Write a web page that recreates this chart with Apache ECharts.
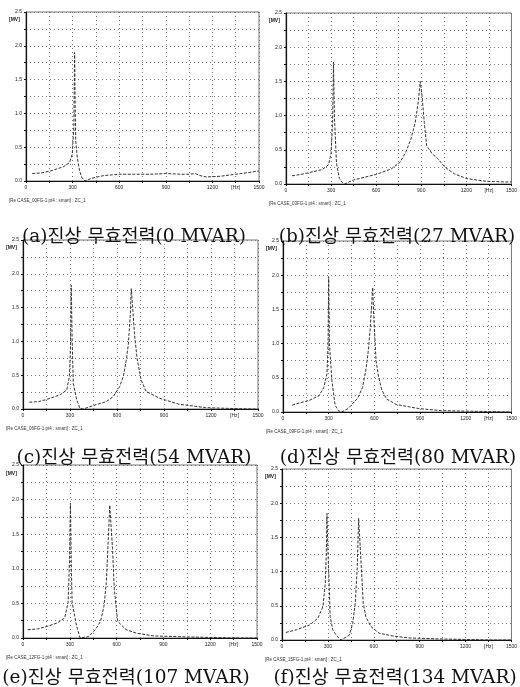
<!DOCTYPE html>
<html><head><meta charset="utf-8">
<script src="https://cdn.jsdelivr.net/npm/echarts@6/dist/echarts.min.js"></script>
<style>html,body{margin:0;padding:0;background:#fff}#c{width:520px;height:687px}</style>
</head><body><div id="c"></div>
<script>
// ---- data ----
const xTicks = [0, 300, 600, 900, 1200, 1500];
const xUnit = '[Hz]';
const yUnit = '[MV]';
const captions = ['(a)진상 무효전력(0 MVAR)', '(b)진상 무효전력(27 MVAR)', '(c)진상 무효전력(54 MVAR)',
  '(d)진상 무효전력(80 MVAR)', '(e)진상 무효전력(107 MVAR)', '(f)진상 무효전력(134 MVAR)'];
const sources = ['[Re CASE_00FG-1.pt4 : smart] : ZC_1', '[Re CASE_03FG-1.pt4 : smart] : ZC_1',
  '[Re CASE_06FG-1.pt4 : smart] : ZC_1', '[Re CASE_09FG-1.pt4 : smart] : ZC_1',
  '[Re CASE_12FG-1.pt4 : smart] : ZC_1', '[Re CASE_15FG-1.pt4 : smart] : ZC_1'];

const fA = [40, 100, 160, 240, 280, 298, 308, 313, 316, 320, 330, 345, 360, 380, 420, 500, 600, 700, 800, 900, 1000, 1050, 1090, 1120, 1160, 1250, 1350, 1450, 1500];
const vA = [0.11, 0.12, 0.15, 0.21, 0.27, 0.4, 0.8, 1.9, 1.2, 0.6, 0.35, 0.15, 0.05, 0.0, 0.04, 0.08, 0.1, 0.1, 0.1, 0.11, 0.1, 0.1, 0.11, 0.08, 0.06, 0.07, 0.1, 0.13, 0.15];

const fB = [40, 100, 160, 240, 283, 300, 310, 316, 322, 336, 355, 375, 390, 450, 600, 700, 760, 800, 830, 860, 880, 893, 905, 920, 936, 970, 1010, 1055, 1120, 1200, 1330, 1460, 1500];
const vB = [0.12, 0.14, 0.17, 0.21, 0.28, 0.45, 0.9, 1.78, 1.0, 0.3, 0.08, 0.02, 0.0, 0.06, 0.14, 0.22, 0.32, 0.48, 0.65, 0.9, 1.2, 1.5, 1.3, 0.9, 0.56, 0.45, 0.37, 0.25, 0.15, 0.08, 0.04, 0.03, 0.03];

const fC = [40, 100, 150, 237, 279, 296, 303, 308, 314, 321, 342, 363, 385, 448, 532, 575, 617, 642, 659, 672, 685, 691, 700, 712, 728, 754, 786, 871, 997, 1166, 1300, 1460, 1500];
const vC = [0.1, 0.11, 0.14, 0.21, 0.28, 0.48, 0.9, 1.83, 1.0, 0.38, 0.14, 0.01, 0.0, 0.05, 0.11, 0.18, 0.33, 0.5, 0.72, 0.95, 1.4, 1.78, 1.5, 1.1, 0.75, 0.43, 0.26, 0.16, 0.07, 0.02, 0.01, 0.0, 0.0];

const fD = [60, 89, 173, 237, 268, 289, 296, 300, 305, 321, 342, 363, 385, 427, 448, 490, 522, 543, 558, 572, 583, 589, 596, 611, 628, 649, 680, 744, 892, 1040, 1251, 1500];
const vD = [0.1, 0.12, 0.17, 0.24, 0.36, 0.56, 1.0, 1.98, 1.0, 0.46, 0.1, 0.02, 0.0, 0.05, 0.1, 0.2, 0.36, 0.6, 0.85, 1.2, 1.6, 1.82, 1.4, 0.75, 0.51, 0.32, 0.19, 0.11, 0.05, 0.02, 0.01, 0.0];

const fE = [30, 92, 158, 223, 267, 289, 298, 304, 310, 315, 344, 366, 420, 464, 497, 519, 534, 548, 556, 565, 574, 585, 607, 661, 727, 837, 1056, 1384, 1500];
const vE = [0.12, 0.13, 0.17, 0.22, 0.29, 0.51, 1.1, 1.95, 1.0, 0.51, 0.17, 0.0, 0.02, 0.12, 0.24, 0.46, 0.8, 1.49, 1.92, 1.6, 1.29, 0.71, 0.24, 0.12, 0.07, 0.03, 0.015, 0.0, 0.0];

const fF = [25, 95, 181, 235, 268, 283, 290, 294, 299, 304, 315, 332, 354, 386, 440, 462, 479, 492, 501, 508, 516, 531, 548, 580, 634, 721, 829, 1044, 1368, 1500];
const vF = [0.11, 0.15, 0.22, 0.32, 0.49, 0.83, 1.3, 1.85, 1.4, 1.07, 0.34, 0.15, 0.07, 0.0, 0.07, 0.24, 0.54, 1.07, 1.78, 1.5, 1.17, 0.54, 0.34, 0.2, 0.1, 0.06, 0.03, 0.015, 0.0, 0.0];

const freqs = [fA, fB, fC, fD, fE, fF];
const vals = [vA, vB, vC, vD, vE, vF];

// ---- layout ----
const panels = [
  {left: 26, top: 12, width: 233, height: 169, capX: 134, capY: 237},
  {left: 286, top: 13, width: 233, height: 171, capX: 397, capY: 237},
  {left: 23, top: 240, width: 235, height: 169, capX: 134, capY: 458},
  {left: 283, top: 241, width: 234, height: 171, capX: 398, capY: 458},
  {left: 23, top: 465, width: 234, height: 173, capX: 126, capY: 678},
  {left: 282, top: 469, width: 234, height: 171, capX: 395, capY: 678}
];

const chart = echarts.init(document.getElementById('c'), null, {renderer: 'canvas'});
const grid = [], xAxis = [], yAxis = [], series = [], graphic = [];
const tickFont = {fontSize: 5, color: '#222', fontFamily: 'Liberation Sans'};
panels.forEach((p, i) => {
  grid.push({left: p.left, top: p.top, width: p.width, height: p.height, show: true, borderColor: '#777', borderWidth: 1});
  xAxis.push({
    type: 'value', gridIndex: i, min: 0, max: 1500, interval: 150,
    axisLine: {show: true, onZero: false, lineStyle: {color: '#111', width: 1.2}},
    axisTick: {show: true, length: 2, lineStyle: {color: '#111'}},
    axisLabel: Object.assign({margin: 4, showMaxLabel: true, showMinLabel: true, hideOverlap: false,
      formatter: v => xTicks.indexOf(v) >= 0 ? String(v) : (v === 1350 ? xUnit : '')}, tickFont),
    splitLine: {show: true, lineStyle: {type: [1, 3], color: '#777', width: 1}}
  });
  yAxis.push({
    type: 'value', gridIndex: i, min: 0, max: 2.5, interval: 0.25,
    axisLine: {show: true, onZero: false, lineStyle: {color: '#111', width: 1.2}},
    axisTick: {show: true, length: 2, lineStyle: {color: '#111'}},
    axisLabel: Object.assign({margin: 4, showMaxLabel: true,
      formatter: v => Math.abs(v * 2 - Math.round(v * 2)) < 1e-6 ? v.toFixed(1) : ''}, tickFont),
    splitLine: {show: true, lineStyle: {type: [1, 3], color: '#777', width: 1}}
  });
  series.push({
    type: 'line', xAxisIndex: i, yAxisIndex: i, showSymbol: false, symbol: 'none',
    data: freqs[i].map((f, k) => [f, vals[i][k]]),
    lineStyle: {color: '#333', width: 1, type: [3, 1.5]}, silent: true, animation: false
  });
  graphic.push({type: 'text', left: p.left - 17, top: p.top + p.height * 0.05 - 3,
    style: {text: yUnit, fontSize: 5, fill: '#222', fontFamily: 'Liberation Sans', fontWeight: 'bold'}});
  graphic.push({type: 'text', left: p.left - 17, top: p.top + p.height + 17,
    style: {text: sources[i], fontSize: 4.5, fill: '#333', fontFamily: 'Liberation Sans'}});
  graphic.push({type: 'text', x: p.capX, y: p.capY,
    style: {text: captions[i], fontSize: 18.5, fill: '#111', align: 'center', verticalAlign: 'middle',
      fontFamily: '"DejaVu Serif", "Noto Sans CJK KR", serif'}});
});

chart.setOption({animation: false, backgroundColor: '#fff', grid, xAxis, yAxis, series, graphic});
</script></body></html>
